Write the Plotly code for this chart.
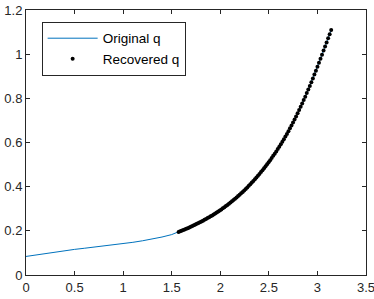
import plotly.graph_objects as go

# Original q (continuous line)
orig_x = [0.0, 0.1, 0.2, 0.3, 0.4, 0.5, 0.6, 0.7, 0.8, 0.9, 1.0, 1.1, 1.2, 1.3, 1.4, 1.5,
          1.5708, 1.6, 1.7, 1.8, 1.9, 2.0, 2.1, 2.2, 2.3, 2.4, 2.5, 2.6, 2.7, 2.8, 2.9, 3.0, 3.07, 3.1416]
orig_y = [0.084, 0.091, 0.098, 0.104, 0.110, 0.116, 0.121, 0.126, 0.131, 0.136, 0.142, 0.148, 0.155, 0.163, 0.172, 0.183,
          0.195, 0.2001, 0.2192, 0.2408, 0.2656, 0.2938, 0.3263, 0.3638, 0.4068, 0.4558, 0.5118, 0.5758, 0.6498, 0.7358,
          0.8336, 0.9428, 1.0242, 1.1092]

# Recovered q (dots)
rec_x = [1.5708, 1.5865, 1.6022, 1.6179, 1.6336, 1.6493, 1.6650, 1.6808, 1.6965, 1.7122,
         1.7279, 1.7436, 1.7593, 1.7750, 1.7907, 1.8064, 1.8221, 1.8378, 1.8535, 1.8692,
         1.8850, 1.9007, 1.9164, 1.9321, 1.9478, 1.9635, 1.9792, 1.9949, 2.0106, 2.0263,
         2.0420, 2.0577, 2.0735, 2.0892, 2.1049, 2.1206, 2.1363, 2.1520, 2.1677, 2.1834,
         2.1991, 2.2148, 2.2305, 2.2462, 2.2619, 2.2777, 2.2934, 2.3091, 2.3248, 2.3405,
         2.3562, 2.3719, 2.3876, 2.4033, 2.4190, 2.4347, 2.4504, 2.4662, 2.4819, 2.4976,
         2.5133, 2.5290, 2.5447, 2.5604, 2.5761, 2.5918, 2.6075, 2.6232, 2.6389, 2.6546,
         2.6704, 2.6861, 2.7018, 2.7175, 2.7332, 2.7489, 2.7646, 2.7803, 2.7960, 2.8117,
         2.8274, 2.8431, 2.8588, 2.8746, 2.8903, 2.9060, 2.9217, 2.9374, 2.9531, 2.9688,
         2.9845, 3.0002, 3.0159, 3.0316, 3.0473, 3.0631, 3.0788, 3.0945, 3.1102, 3.1259,
         3.1416]
rec_y = [0.1950, 0.1977, 0.2005, 0.2033, 0.2062, 0.2092, 0.2122, 0.2153, 0.2184, 0.2217,
         0.2249, 0.2283, 0.2317, 0.2352, 0.2387, 0.2423, 0.2460, 0.2498, 0.2537, 0.2576,
         0.2617, 0.2658, 0.2700, 0.2743, 0.2787, 0.2831, 0.2877, 0.2923, 0.2971, 0.3019,
         0.3069, 0.3120, 0.3172, 0.3226, 0.3281, 0.3337, 0.3394, 0.3452, 0.3512, 0.3573,
         0.3635, 0.3698, 0.3763, 0.3830, 0.3898, 0.3967, 0.4038, 0.4111, 0.4184, 0.4260,
         0.4336, 0.4415, 0.4494, 0.4576, 0.4659, 0.4744, 0.4831, 0.4920, 0.5011, 0.5104,
         0.5199, 0.5296, 0.5395, 0.5495, 0.5598, 0.5703, 0.5810, 0.5919, 0.6032, 0.6148,
         0.6267, 0.6388, 0.6513, 0.6640, 0.6771, 0.6904, 0.7040, 0.7180, 0.7322, 0.7467,
         0.7615, 0.7766, 0.7919, 0.8077, 0.8236, 0.8398, 0.8563, 0.8731, 0.8902, 0.9075,
         0.9252, 0.9431, 0.9612, 0.9794, 0.9976, 1.0161, 1.0346, 1.0531, 1.0717, 1.0904,
         1.1092]

x_ticks = [0, 0.5, 1, 1.5, 2, 2.5, 3, 3.5]
x_tick_labels = ["0", "0.5", "1", "1.5", "2", "2.5", "3", "3.5"]
y_ticks = [0, 0.2, 0.4, 0.6, 0.8, 1, 1.2]
y_tick_labels = ["0", "0.2", "0.4", "0.6", "0.8", "1", "1.2"]

axis_color = "#262626"
font_family = "Liberation Sans, Arial, sans-serif"

fig = go.Figure()
fig.add_trace(go.Scatter(x=orig_x, y=orig_y, mode="lines", name="Original q",
                         line=dict(color="#0072BD", width=1)))
fig.add_trace(go.Scatter(x=rec_x, y=rec_y, mode="markers", name="Recovered q",
                         marker=dict(color="black", size=4, line=dict(width=0))))

axis_common = dict(showline=True, linecolor=axis_color, linewidth=1, mirror="ticks",
                   ticks="inside", ticklen=4, tickwidth=1, tickcolor=axis_color,
                   showgrid=False, zeroline=False, automargin=False,
                   tickfont=dict(family=font_family, size=13, color=axis_color))

fig.update_layout(
    width=374, height=299,
    margin=dict(l=26, r=8, t=10, b=24),
    paper_bgcolor="white", plot_bgcolor="white",
    xaxis=dict(range=[0, 3.5], tickvals=x_ticks, ticktext=x_tick_labels, ticklabeloverflow="allow",
               **axis_common),
    yaxis=dict(range=[0, 1.2], tickvals=y_ticks, ticktext=y_tick_labels, ticklabeloverflow="allow",
               **axis_common),
    legend=dict(x=0.046, y=0.955, xanchor="left", yanchor="top",
                bgcolor="white", bordercolor=axis_color, borderwidth=1,
                font=dict(family=font_family, size=13.5, color="black"),
                itemwidth=50, tracegroupgap=0),
    showlegend=True,
)

fig.write_html("out.html",
               config={"displayModeBar": False},
               post_script="document.body.style.margin='0';document.body.style.overflow='hidden';")
